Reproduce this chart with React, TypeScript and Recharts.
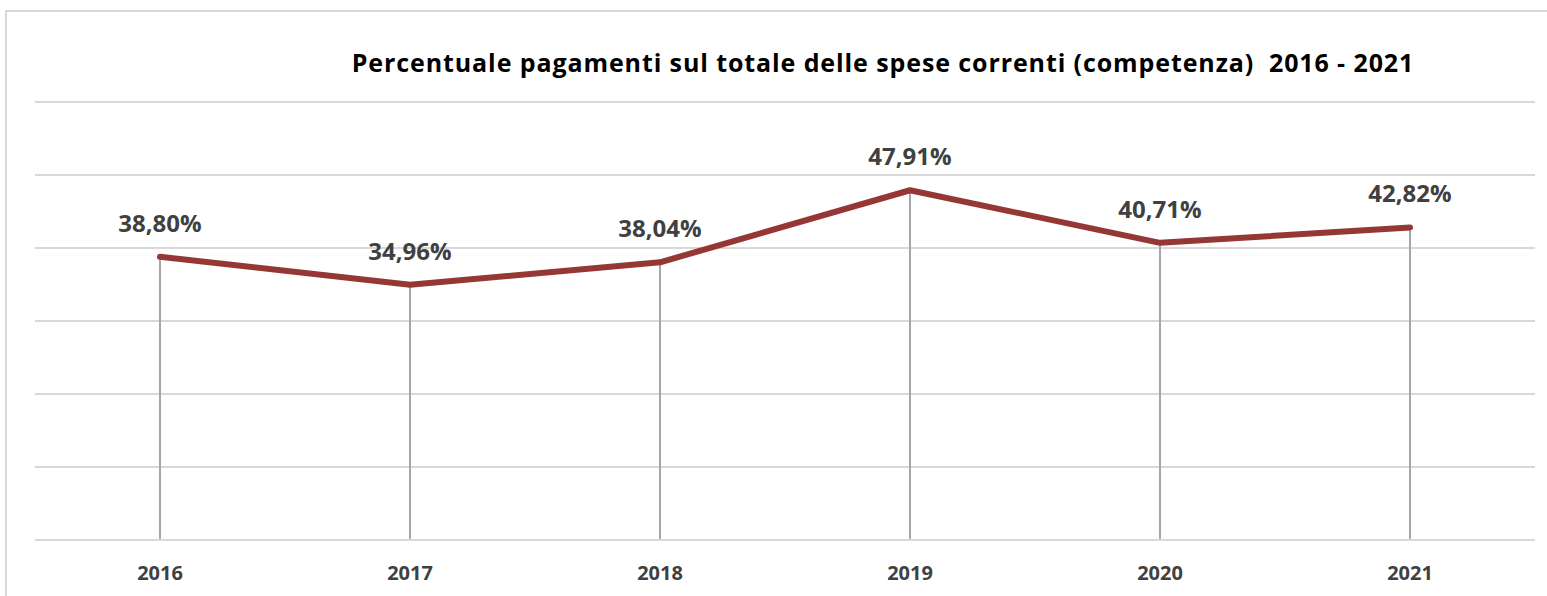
import React from "react";
import { ComposedChart, Line, Bar, XAxis, YAxis, CartesianGrid, LabelList } from "recharts";

const years = ["2016", "2017", "2018", "2019", "2020", "2021"];
const percentages = [38.8, 34.96, 38.04, 47.91, 40.71, 42.82];
const yTicks = [0, 10, 20, 30, 40, 50, 60];

const data = years.map((y, i) => ({ year: y, value: percentages[i] }));

const fmt = (v: number) => v.toFixed(2).replace(".", ",") + "%";

const FONT = "'Open Sans', 'Liberation Sans', sans-serif";

const renderLabel = (props: any) => {
  const { x, y, value } = props;
  return (
    <text
      x={x}
      y={y - 25}
      textAnchor="middle"
      fill="#404040"
      fontFamily={FONT}
      fontWeight={700}
      fontSize={24}
    >
      {fmt(value)}
    </text>
  );
};

export default function App() {
  return (
    <div style={{ position: "absolute", left: 0, top: 0, width: 1547, height: 596, background: "#fff", overflow: "hidden" }}>
      <div
        style={{
          position: "absolute",
          left: 5,
          top: 10,
          width: 1600,
          height: 700,
          border: "2px solid #d9d9d9",
          boxSizing: "border-box",
        }}
      />
      <div
        style={{
          position: "absolute",
          left: 300,
          top: 46,
          width: 1166,
          textAlign: "center",
          fontFamily: FONT,
          fontWeight: 700,
          fontSize: 25,
          letterSpacing: 0.9,
          color: "#000",
          whiteSpace: "pre",
          lineHeight: "32px",
        }}
      >
        {"Percentuale pagamenti sul totale delle spese correnti (competenza)  2016 - 2021"}
      </div>
      <div style={{ position: "absolute", left: 0, top: 0 }}>
        <ComposedChart
          width={1547}
          height={596}
          data={data}
          margin={{ top: 102, right: 12, bottom: 0, left: 35 }}
        >
          <CartesianGrid vertical={false} stroke="#d9d9d9" strokeWidth={2} />
          <YAxis hide domain={[0, 60]} ticks={yTicks} />
          <XAxis
            dataKey="year"
            height={56}
            axisLine={{ stroke: "#d9d9d9", strokeWidth: 2 }}
            tickLine={false}
            tick={{ fill: "#404040", fontFamily: FONT, fontWeight: 700, fontSize: 20 }}
            dy={18}
          />
          <Bar dataKey="value" barSize={2} fill="#a6a6a6" isAnimationActive={false} />
          <Line
            dataKey="value"
            stroke="#953735"
            strokeWidth={6}
            strokeLinecap="round"
            strokeLinejoin="round"
            dot={false}
            activeDot={false}
            isAnimationActive={false}
          >
            <LabelList dataKey="value" content={renderLabel} />
          </Line>
        </ComposedChart>
      </div>
    </div>
  );
}
